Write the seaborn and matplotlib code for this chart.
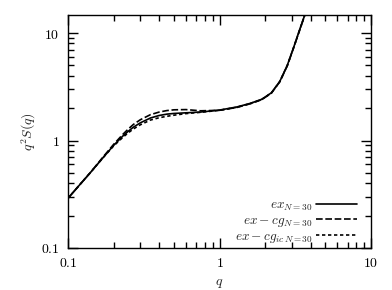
import numpy as np
import pandas as pd
import matplotlib
matplotlib.use("Agg")
import matplotlib.pyplot as plt
import seaborn as sns

# ============================================================
# Data
# ============================================================

q = [0.1, 0.12, 0.14, 0.17, 0.2, 0.23, 0.25, 0.27, 0.3, 0.35, 0.4, 0.45, 0.5, 0.6,
     0.75, 1.0, 1.3, 1.6, 1.9, 2.2, 2.5, 2.8, 3.1, 3.4, 3.7]
s_ex = [0.29, 0.39, 0.50, 0.69, 0.90, 1.10, 1.22, 1.33, 1.46, 1.62, 1.71, 1.76, 1.785, 1.81,
        1.84, 1.92, 2.05, 2.22, 2.42, 2.78, 3.55, 5.0, 7.5, 11.0, 15.5]
s_excg = [0.29, 0.39, 0.50, 0.70, 0.92, 1.14, 1.28, 1.41, 1.56, 1.74, 1.84, 1.90, 1.93, 1.94,
          1.89, 1.91, 2.03, 2.20, 2.40, 2.76, 3.52, 4.95, 7.45, 10.9, 15.5]
s_excg_ic = [0.29, 0.39, 0.50, 0.69, 0.89, 1.07, 1.18, 1.28, 1.40, 1.55, 1.63, 1.68, 1.72, 1.78,
             1.83, 1.91, 2.04, 2.21, 2.41, 2.77, 3.54, 4.98, 7.48, 10.95, 15.5]

labels = [r"$ex_{N=30}$", r"$ex-cg_{N=30}$", r"$ex-cg_{ic\,N=30}$"]
styles = ["-", (0, (4, 1.6)), (0, (2, 1.6))]

x_ticks = [0.1, 1, 10]
x_tick_labels = ["0.1", "1", "10"]
y_ticks = [0.1, 1, 10]
y_tick_labels = ["0.1", "1", "10"]

# ============================================================
# Plot
# ============================================================

sns.set_style("ticks")
plt.rcParams["font.family"] = ["DejaVu Serif"]
plt.rcParams["mathtext.fontset"] = "cm"

fig = plt.figure(figsize=(3.92, 2.90), dpi=100)
ax = fig.add_axes([0.1735, 0.145, 0.773, 0.803])

for series, label, ls in zip([s_ex, s_excg, s_excg_ic], labels, styles):
    df = pd.DataFrame({"q": q, "s": series})
    sns.lineplot(data=df, x="q", y="s", ax=ax, color="black", linewidth=1.2,
                 linestyle=ls, label=label)

ax.set_xscale("log")
ax.set_yscale("log")
ax.set_xlim(0.1, 10)
ax.set_ylim(0.1, 14.7)

ax.set_xticks(x_ticks)
ax.set_xticklabels([f"${t}$" for t in x_tick_labels])
ax.set_yticks(y_ticks)
ax.set_yticklabels([f"${t}$" for t in y_tick_labels])

ax.tick_params(which="both", direction="in", top=True, right=True,
               width=1.0, colors="black", labelsize=10, pad=6)
ax.tick_params(which="major", length=7)
ax.tick_params(which="minor", length=4)
for sp in ax.spines.values():
    sp.set_linewidth(1.0)
    sp.set_color("black")

ax.set_xlabel(r"$q$", fontsize=10, labelpad=4)
ax.set_ylabel(r"$q^2S(q)$", fontsize=10, labelpad=2)

ax.legend(loc="lower right", bbox_to_anchor=(0.985, -0.025), frameon=False,
          markerfirst=False, fontsize=9.5, handlelength=3.1, handletextpad=0.3,
          labelspacing=0.05, borderaxespad=0.3)

fig.savefig("out.png", dpi=100)
